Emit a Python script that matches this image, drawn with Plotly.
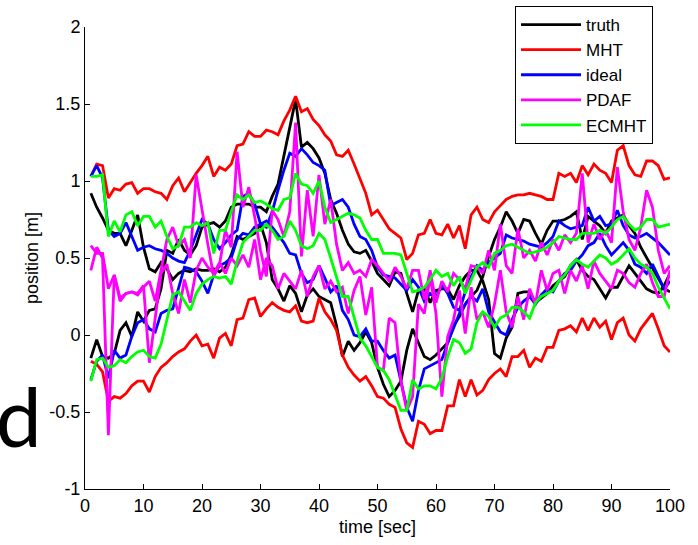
import plotly.graph_objects as go

# time samples [sec]
t = list(range(1, 101))

# ground-truth positions of the two targets [m]
truth_a = [-0.15, -0.03, -0.14, -0.15, -0.12, 0.03, 0.08, -0.01, 0.15, 0.09,
           0.16, 0.17, 0.30, 0.55, 0.53, 0.62, 0.55, 0.52, 0.58, 0.70,
           0.72, 0.73, 0.70, 0.74, 0.83, 0.85, 0.85, 0.85, 0.83, 0.83,
           0.80, 0.90, 0.98, 1.16, 1.35, 1.53, 1.22, 1.25, 1.21, 1.15,
           1.05, 0.88, 0.79, 0.68, 0.59, 0.54, 0.53, 0.55, 0.48, 0.40,
           0.36, 0.32, 0.41, 0.40, 0.27, 0.15, 0.29, 0.30, 0.21, 0.29,
           0.30, 0.30, 0.23, 0.32, 0.38, 0.42, 0.42, 0.35, 0.23, -0.12,
           -0.15, -0.02, 0.05, 0.27, 0.28, 0.28, 0.21, 0.24, 0.27, 0.32,
           0.35, 0.38, 0.45, 0.49, 0.42, 0.38, 0.36, 0.30, 0.24, 0.31,
           0.31, 0.38, 0.45, 0.40, 0.35, 0.30, 0.28, 0.27, 0.32, 0.40]
truth_b = [0.92, 0.83, 0.76, 0.68, 0.66, 0.66, 0.58, 0.68, 0.78, 0.57,
           0.43, 0.41, 0.47, 0.43, 0.36, 0.40, 0.42, 0.41, 0.43, 0.42,
           0.42, 0.43, 0.41, 0.44, 0.52, 0.64, 0.62, 0.64, 0.66, 0.72,
           0.60, 0.36, 0.30, 0.22, 0.32, 0.27, 0.15, 0.26, 0.30, 0.25,
           0.23, 0.21, 0.06, -0.14, -0.04, -0.10, -0.05, 0.02, -0.05, -0.21,
           -0.32, -0.40, -0.36, -0.30, -0.10, 0.04, -0.05, -0.14, -0.16, -0.13,
           -0.09, -0.05, 0.06, 0.12, 0.20, 0.25, 0.29, 0.38, 0.51, 0.62,
           0.70, 0.80, 0.74, 0.66, 0.75, 0.74, 0.66, 0.59, 0.68, 0.74,
           0.74, 0.75, 0.77, 0.80, 0.62, 0.77, 0.74, 0.71, 0.66, 0.74,
           0.76, 0.78, 0.71, 0.66, 0.57, 0.50, 0.44, 0.36, 0.30, 0.28]

# MHT upper / lower envelope
mht_upper = [1.03, 1.11, 1.10, 0.89, 0.95, 0.94, 0.98, 0.99, 0.92, 0.95,
             0.95, 0.93, 0.92, 0.88, 0.97, 1.02, 0.93, 0.99, 1.05, 1.10,
             1.16, 1.03, 1.09, 1.07, 1.11, 1.23, 1.24, 1.32, 1.29, 1.29,
             1.33, 1.32, 1.30, 1.39, 1.46, 1.55, 1.45, 1.47, 1.40, 1.36,
             1.30, 1.26, 1.17, 1.16, 1.20, 1.11, 1.02, 0.92, 0.78, 0.81,
             0.75, 0.69, 0.66, 0.63, 0.49, 0.53, 0.65, 0.66, 0.75, 0.66,
             0.65, 0.72, 0.63, 0.71, 0.56, 0.78, 0.83, 0.75, 0.73, 0.80,
             0.84, 0.88, 0.90, 0.91, 0.91, 0.92, 0.91, 0.90, 0.88, 0.88,
             1.05, 1.03, 1.05, 0.99, 1.10, 1.04, 1.11, 1.07, 1.05, 0.99,
             1.20, 1.23, 1.10, 1.04, 1.03, 1.13, 1.13, 1.10, 1.01, 1.02]
mht_lower = [-0.17, -0.19, -0.24, -0.43, -0.40, -0.41, -0.38, -0.33, -0.30, -0.30,
             -0.37, -0.27, -0.21, -0.18, -0.14, -0.11, -0.09, -0.04, 0.00, -0.07,
             -0.06, -0.15, -0.02, 0.01, -0.07, 0.10, 0.11, 0.23, 0.24, 0.12,
             0.17, 0.21, 0.18, 0.16, 0.15, 0.19, 0.09, 0.08, 0.09, 0.24,
             0.15, 0.10, 0.03, -0.13, -0.21, -0.26, -0.30, -0.27, -0.33, -0.40,
             -0.41, -0.45, -0.47, -0.61, -0.70, -0.73, -0.56, -0.58, -0.64, -0.62,
             -0.62, -0.46, -0.46, -0.29, -0.40, -0.29, -0.39, -0.36, -0.29, -0.25,
             -0.22, -0.27, -0.14, -0.14, -0.10, -0.21, -0.15, -0.17, -0.08, -0.08,
             0.03, 0.04, 0.06, 0.02, 0.11, 0.03, 0.11, 0.05, 0.09, -0.03,
             0.08, 0.11, 0.00, -0.04, 0.04, 0.09, 0.14, 0.04, -0.07, -0.11]

# ideal tracker estimates
ideal_a = [1.03, 1.10, 1.02, 0.68, 0.64, 0.66, 0.73, 0.64, 0.55, 0.57,
           0.58, 0.56, 0.55, 0.53, 0.50, 0.48, 0.47, 0.55, 0.65, 0.75,
           0.72, 0.62, 0.56, 0.60, 0.65, 0.68, 0.90, 0.92, 0.85, 0.72,
           0.70, 0.80, 0.94, 1.07, 1.18, 1.16, 1.21, 1.17, 1.12, 1.10,
           1.07, 0.84, 0.86, 0.88, 0.83, 0.72, 0.64, 0.62, 0.55, 0.44,
           0.39, 0.38, 0.37, 0.33, 0.29, 0.36, 0.31, 0.22, 0.27, 0.24,
           0.33, 0.27, 0.18, 0.16, 0.28, 0.38, 0.45, 0.42, 0.47, 0.50,
           0.53, 0.65, 0.63, 0.62, 0.61, 0.59, 0.58, 0.57, 0.60, 0.64,
           0.74, 0.71, 0.69, 0.70, 0.71, 0.83, 0.74, 0.77, 0.71, 0.72,
           0.81, 0.71, 0.65, 0.63, 0.64, 0.66, 0.63, 0.60, 0.56, 0.52]
ideal_b = [-0.29, -0.17, -0.13, -0.28, -0.10, -0.15, -0.13, -0.01, 0.08, 0.10,
           0.04, 0.02, 0.14, 0.16, 0.17, 0.30, 0.44, 0.43, 0.41, 0.35,
           0.27, 0.39, 0.45, 0.47, 0.50, 0.62, 0.66, 0.65, 0.70, 0.72,
           0.74, 0.70, 0.65, 0.60, 0.53, 0.52, 0.40, 0.34, 0.36, 0.45,
           0.37, 0.28, 0.32, 0.16, 0.10, 0.00, -0.01, 0.04, -0.04, -0.04,
           -0.10, -0.15, -0.13, -0.29, -0.47, -0.56, -0.36, -0.22, -0.20, -0.18,
           -0.16, -0.05, 0.04, 0.14, 0.20, 0.25, 0.22, 0.30, 0.15, 0.08,
           0.02, 0.00, 0.10, 0.18, 0.22, 0.25, 0.20, 0.26, 0.30, 0.28,
           0.35, 0.40, 0.42, 0.48, 0.52, 0.58, 0.60, 0.66, 0.58, 0.52,
           0.56, 0.60, 0.55, 0.46, 0.44, 0.40, 0.46, 0.38, 0.30, 0.35]

# PDAF estimates
pdaf_a = [0.58, 0.53, 0.53, 0.30, 0.39, 0.24, 0.27, 0.28, 0.26, 0.31,
          0.35, 0.22, 0.42, 0.62, 0.70, 0.58, 0.62, 0.50, 1.04, 0.80,
          0.59, 0.38, 0.46, 0.68, 0.57, 1.19, 0.83, 0.96, 0.77, 0.55,
          0.38, 0.81, 0.75, 0.64, 0.80, 1.38, 0.51, 0.94, 0.64, 1.04,
          0.72, 0.88, 0.59, 0.42, 0.47, 0.40, 0.42, 0.38, 0.49, 0.45,
          0.40, 0.35, 0.44, 0.38, 0.30, 0.42, 0.42, 0.23, 0.42, 0.21,
          0.35, 0.28, 0.40, 0.36, 0.30, 0.45, 0.44, 0.40, 0.55, 0.42,
          0.72, 0.45, 0.40, 0.69, 0.50, 0.55, 0.48, 0.60, 0.52, 0.62,
          0.55, 0.65, 0.60, 0.66, 1.05, 0.60, 0.72, 0.62, 0.68, 0.60,
          1.09, 0.80, 0.62, 0.55, 0.70, 0.94, 0.83, 0.55, 0.40, 0.45]
pdaf_b = [0.42, 0.57, 0.50, -0.65, 0.39, 0.22, 0.27, 0.28, 0.27, 0.32,
          -0.18, 0.10, 0.40, 0.46, 0.27, 0.14, 0.36, 0.21, 0.42, 0.50,
          0.44, 0.40, 0.47, 0.40, 0.50, 0.45, 0.52, 0.44, 0.62, 0.36,
          0.50, 0.45, 0.30, 0.40, 0.35, 0.30, 0.42, 0.25, 0.38, 0.45,
          0.30, 0.35, 0.28, 0.31, 0.14, 0.29, 0.38, 0.13, 0.31, -0.21,
          -0.23, 0.11, 0.08, -0.30, -0.49, -0.40, 0.20, 0.14, 0.38, 0.14,
          -0.40, -0.01, 0.10, 0.29, 0.01, 0.31, 0.10, 0.15, 0.05, 0.20,
          0.42, 0.15, 0.05, 0.25, 0.10, 0.30, 0.20, 0.42, 0.29, 0.40,
          0.42, 0.27, 0.42, 0.35, 0.45, 0.30, 0.48, 0.40, 0.35, 0.30,
          0.42, 0.40, 0.34, 0.31, 0.40, 0.46, 0.34, 0.25, 0.25, 0.42]

# ECMHT estimates
ecmht_a = [1.03, 1.03, 1.04, 0.64, 0.74, 0.67, 0.78, 0.80, 0.71, 0.77,
           0.77, 0.70, 0.74, 0.64, 0.56, 0.58, 0.70, 0.70, 0.73, 0.71,
           0.73, 0.53, 0.68, 0.68, 0.80, 0.91, 0.88, 0.91, 0.86, 0.87,
           0.85, 0.82, 0.81, 0.88, 0.89, 1.05, 0.98, 0.97, 0.92, 1.00,
           0.83, 0.73, 0.75, 0.77, 0.79, 0.78, 0.76, 0.68, 0.62, 0.62,
           0.53, 0.53, 0.53, 0.52, 0.40, 0.28, 0.29, 0.31, 0.36, 0.42,
           0.38, 0.40, 0.32, 0.38, 0.27, 0.35, 0.44, 0.47, 0.44, 0.53,
           0.55, 0.58, 0.59, 0.57, 0.55, 0.53, 0.54, 0.55, 0.57, 0.60,
           0.64, 0.63, 0.62, 0.62, 0.66, 0.66, 0.66, 0.68, 0.66, 0.70,
           0.75, 0.77, 0.72, 0.68, 0.70, 0.75, 0.75, 0.70, 0.71, 0.72]
ecmht_b = [-0.30, -0.16, -0.15, -0.21, -0.20, -0.16, -0.18, -0.14, -0.11, -0.10,
           -0.14, -0.15, -0.06, 0.10, 0.26, 0.28, 0.22, 0.16, 0.27, 0.33,
           0.36, 0.38, 0.37, 0.38, 0.33, 0.48, 0.60, 0.64, 0.68, 0.68,
           0.72, 0.68, 0.62, 0.64, 0.74, 0.68, 0.58, 0.56, 0.58, 0.66,
           0.62, 0.50, 0.38, 0.25, 0.25, 0.12, -0.02, -0.07, -0.14, -0.21,
           -0.23, -0.29, -0.39, -0.49, -0.49, -0.29, -0.35, -0.33, -0.33, -0.35,
           -0.28, -0.14, -0.03, -0.05, -0.12, -0.09, 0.08, 0.15, 0.12, 0.05,
           0.11, 0.13, 0.18, 0.18, 0.15, 0.11, 0.21, 0.25, 0.27, 0.29,
           0.35, 0.39, 0.45, 0.49, 0.46, 0.44, 0.48, 0.52, 0.50, 0.46,
           0.48, 0.52, 0.56, 0.50, 0.46, 0.44, 0.40, 0.31, 0.24, 0.17]

x_ticks = [0, 10, 20, 30, 40, 50, 60, 70, 80, 90, 100]
y_ticks = [-1, -0.5, 0, 0.5, 1, 1.5, 2]
y_tick_text = ["-1", "-0.5", "0", "0.5", "1", "1.5", "2"]

series = [
    ("truth", "#000000", [truth_a, truth_b]),
    ("MHT", "#ff0000", [mht_upper, mht_lower]),
    ("ideal", "#0000ff", [ideal_a, ideal_b]),
    ("PDAF", "#ff00ff", [pdaf_a, pdaf_b]),
    ("ECMHT", "#00ff00", [ecmht_a, ecmht_b]),
]

fig = go.Figure()
for name, color, tracks in series:
    for k, y in enumerate(tracks):
        fig.add_trace(go.Scatter(
            x=t, y=y, mode="lines", name=name, legendgroup=name,
            showlegend=(k == 0),
            line=dict(color=color, width=2.8),
        ))

W, H = 698, 545
ML, MR, MT, MB = 85, 28, 27, 56
PW, PH = W - ML - MR, H - MT - MB
font = "Liberation Sans, Arial, sans-serif"

axis_common = dict(
    showline=True, linecolor="black", linewidth=1,
    ticks="inside", ticklen=5, tickcolor="black", tickwidth=1,
    showgrid=False, zeroline=False, mirror=False,
    tickfont=dict(family=font, size=18, color="black"),
)

fig.update_layout(
    width=W, height=H,
    margin=dict(l=ML, r=MR, t=MT, b=MB, autoexpand=False),
    paper_bgcolor="white", plot_bgcolor="white",
    showlegend=True,
    legend=dict(
        x=(515 - ML) / PW, y=(H - MB - 6) / PH,
        xanchor="left", yanchor="top",
        bordercolor="black", borderwidth=1, bgcolor="white",
        font=dict(family=font, size=17, color="black"),
        itemwidth=60, tracegroupgap=0,
    ),
    xaxis=dict(range=[0, 100], tickvals=x_ticks,
               title=dict(text="time [sec]", standoff=5,
                          font=dict(family=font, size=18, color="black")),
               **axis_common),
    yaxis=dict(range=[-1, 2], tickvals=y_ticks, ticktext=y_tick_text,
               title=dict(text="position [m]", standoff=6,
                          font=dict(family=font, size=18, color="black")),
               **axis_common),
)

# large slide lettering partly showing at the left edge
fig.add_annotation(
    text="nd", xref="paper", yref="paper",
    x=(44 - ML) / PW, y=(H - MB - 466) / PH,
    xanchor="right", yanchor="bottom", showarrow=False,
    font=dict(family="Lato, Open Sans, sans-serif", size=82, color="black"),
)

fig.write_html("out.html")
